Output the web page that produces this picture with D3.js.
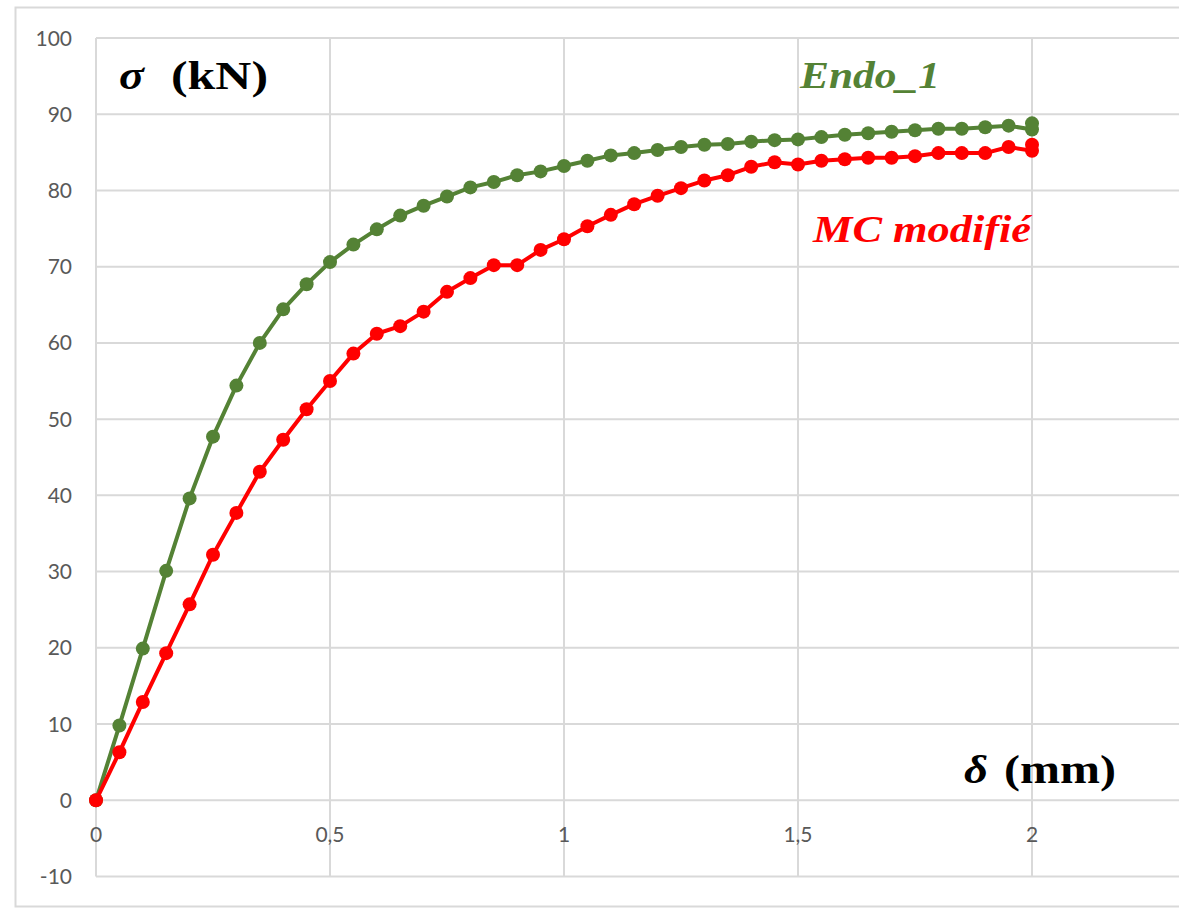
<!DOCTYPE html>
<html>
<head>
<meta charset="utf-8">
<script src="https://cdn.jsdelivr.net/npm/d3@7"></script>
<style>
  html, body { margin: 0; padding: 0; background: #ffffff; overflow: hidden; }
  svg { display: block; }
</style>
</head>
<body>
<svg id="chart" width="1179" height="909"></svg>
<script>
// Displacement δ (mm), sampled every 0.05 mm; the last step is recorded twice
const delta = [0, 0.05, 0.1, 0.15, 0.2, 0.25, 0.3, 0.35, 0.4, 0.45, 0.5,
  0.55, 0.6, 0.65, 0.7, 0.75, 0.8, 0.85, 0.9, 0.95, 1.0,
  1.05, 1.1, 1.15, 1.2, 1.25, 1.3, 1.35, 1.4, 1.45, 1.5,
  1.55, 1.6, 1.65, 1.7, 1.75, 1.8, 1.85, 1.9, 1.95, 2.0, 2.0];

// Load σ (kN) — Endo_1 model
const endo1 = [0, 9.8, 19.9, 30.1, 39.6, 47.7, 54.4, 60.0, 64.4, 67.7, 70.6,
  72.9, 74.9, 76.7, 78.0, 79.2, 80.4, 81.1, 82.0, 82.5, 83.2,
  83.9, 84.6, 84.9, 85.3, 85.7, 86.0, 86.1, 86.4, 86.6, 86.7,
  87.0, 87.3, 87.5, 87.7, 87.9, 88.1, 88.1, 88.3, 88.5, 88.0, 88.8];

// Load σ (kN) — modified Mohr-Coulomb model
const mcModifie = [0, 6.3, 12.9, 19.3, 25.7, 32.2, 37.7, 43.1, 47.3, 51.3, 55.0,
  58.6, 61.2, 62.2, 64.1, 66.7, 68.5, 70.2, 70.2, 72.2, 73.6,
  75.3, 76.8, 78.2, 79.3, 80.3, 81.3, 82.0, 83.1, 83.7, 83.4,
  83.9, 84.1, 84.3, 84.3, 84.5, 84.9, 84.9, 84.9, 85.7, 85.2, 86.0];

// Gridlines run to 2.5 mm; only the labels up to 2 mm fall inside the chart area
const xTicks = [0, 0.5, 1, 1.5, 2, 2.5];
const xTickLabels = ["0", "0,5", "1", "1,5", "2"];
const yTicks = [-10, 0, 10, 20, 30, 40, 50, 60, 70, 80, 90, 100];

const series = [
  { name: "Endo_1", values: endo1, color: "#548235" },
  { name: "MC modifié", values: mcModifie, color: "#ff0000" }
];

const svg = d3.select("#chart");
const W = 1179, H = 909;

const x = d3.scaleLinear().domain([0, 2.5]).range([96, 1266]);
const y = d3.scaleLinear().domain([-10, 100]).range([876.5, 38]);

const grid = "#d9d9d9";
const tickColor = "#595959";

// chart area border
svg.append("rect")
  .attr("x", 15.5).attr("y", 7.5)
  .attr("width", W + 20).attr("height", 899)
  .attr("fill", "none").attr("stroke", grid).attr("stroke-width", 2);

// horizontal gridlines
svg.append("g").selectAll("line").data(yTicks).join("line")
  .attr("x1", x(0)).attr("x2", x(2.5))
  .attr("y1", d => y(d)).attr("y2", d => y(d))
  .attr("stroke", grid).attr("stroke-width", 2);

// vertical gridlines
svg.append("g").selectAll("line").data(xTicks).join("line")
  .attr("x1", d => x(d)).attr("x2", d => x(d))
  .attr("y1", y(100)).attr("y2", y(-10))
  .attr("stroke", grid).attr("stroke-width", 2);

// y tick labels
svg.append("g").selectAll("text").data(yTicks).join("text")
  .attr("x", 72).attr("y", d => y(d))
  .attr("dy", "0.36em")
  .attr("text-anchor", "end")
  .attr("font-family", "Lato, 'Open Sans', sans-serif")
  .attr("font-size", 21)
  .attr("fill", tickColor)
  .text(d => d);

// x tick labels, placed below the zero line where the axis crosses
svg.append("g").selectAll("text").data(xTickLabels).join("text")
  .attr("x", (d, i) => x(xTicks[i])).attr("y", y(0) + 34)
  .attr("dy", "0.36em")
  .attr("text-anchor", "middle")
  .attr("font-family", "Lato, 'Open Sans', sans-serif")
  .attr("font-size", 21)
  .attr("fill", tickColor)
  .text(d => d);

// curves and markers
const line = d3.line()
  .x((d, i) => x(delta[i]))
  .y(d => y(d));

series.forEach(s => {
  const g = svg.append("g");
  g.append("path")
    .datum(s.values)
    .attr("d", line)
    .attr("fill", "none")
    .attr("stroke", s.color)
    .attr("stroke-width", 4)
    .attr("stroke-linejoin", "round");
  g.selectAll("circle").data(s.values).join("circle")
    .attr("cx", (d, i) => x(delta[i]))
    .attr("cy", d => y(d))
    .attr("r", 7)
    .attr("fill", s.color);
});

// axis titles
const serif = "'Liberation Serif', 'DejaVu Serif', serif";
function title(xPos, yPos, txt, width, italic) {
  svg.append("text")
    .attr("x", xPos).attr("y", yPos)
    .attr("font-family", serif)
    .attr("font-weight", "bold")
    .attr("font-style", italic ? "italic" : "normal")
    .attr("font-size", 40)
    .attr("fill", "#000")
    .attr("textLength", width)
    .attr("lengthAdjust", "spacingAndGlyphs")
    .text(txt);
}
title(119, 89, "σ", 25, true);
title(171, 89, "(kN)", 97, false);
title(964, 783, "δ", 24, true);
title(1004, 783, "(mm)", 112, false);

// series labels
svg.append("text")
  .attr("x", 800).attr("y", 88)
  .attr("font-family", serif)
  .attr("font-weight", "bold")
  .attr("font-style", "italic")
  .attr("font-size", 37)
  .attr("fill", "#548235")
  .attr("textLength", 140)
  .attr("lengthAdjust", "spacingAndGlyphs")
  .text("Endo_1");

svg.append("text")
  .attr("x", 813).attr("y", 242)
  .attr("font-family", serif)
  .attr("font-weight", "bold")
  .attr("font-style", "italic")
  .attr("font-size", 37)
  .attr("fill", "#ff0000")
  .attr("textLength", 218)
  .attr("lengthAdjust", "spacingAndGlyphs")
  .text("MC modifié");
</script>
</body>
</html>
